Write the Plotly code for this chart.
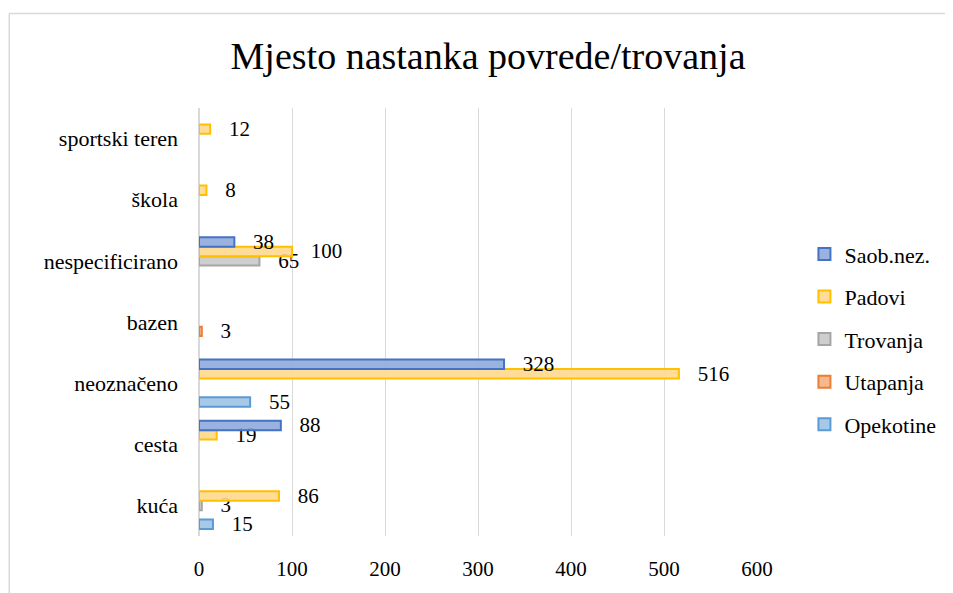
import plotly.graph_objects as go

categories = ["kuća", "cesta", "neoznačeno", "bazen", "nespecificirano", "škola", "sportski teren"]

saob_nez = [None, 88, 328, None, 38, None, None]
padovi = [86, 19, 516, None, 100, 8, 12]
trovanja = [3, None, None, None, 65, None, None]
utapanja = [None, None, None, 3, None, None, None]
opekotine = [15, None, 55, None, None, None, None]

x_ticks = [0, 100, 200, 300, 400, 500, 600]

# bottom to top inside each group (plotly draws first trace at the bottom)
series = [
    ("Opekotine", opekotine, "rgba(157,195,230,0.9)", "#5B9BD5", 5),
    ("Utapanja", utapanja, "rgba(244,177,131,0.9)", "#ED7D31", 4),
    ("Trovanja", trovanja, "rgba(201,201,201,0.9)", "#A5A5A5", 3),
    ("Padovi", padovi, "rgba(255,217,142,0.9)", "#FFC000", 2),
    ("Saob.nez.", saob_nez, "rgba(143,170,220,0.9)", "#4472C4", 1),
]

font_name = "Times New Roman, Liberation Serif, serif"

fig = go.Figure()
for name, vals, fill, edge, rank in series:
    fig.add_trace(go.Bar(
        y=categories, x=vals, name=name, orientation="h",
        marker=dict(color=fill, line=dict(color=edge, width=2)),
        text=vals, texttemplate="   %{x}", textposition="outside",
        textfont=dict(family=font_name, size=21, color="black"),
        constraintext="none", cliponaxis=False,
        legendgroup=name, legendrank=rank,
    ))

# the page body adds 8px around the figure, so the figure is 8px smaller
fig.update_layout(
    width=945, height=585,
    barmode="group", bargap=0.23, bargroupgap=0,
    paper_bgcolor="white", plot_bgcolor="white",
    margin=dict(l=191, r=195, t=100, b=51),
    font=dict(family=font_name, size=21, color="black"),
    title=dict(text="Mjesto nastanka povrede/trovanja", x=0.508, xanchor="center",
               y=0.918, yanchor="middle",
               font=dict(family=font_name, size=38, color="black")),
    legend=dict(x=1.085, xanchor="left", y=0.46, yanchor="middle",
                traceorder="grouped", tracegroupgap=11,
                font=dict(family=font_name, size=22, color="black")),
    shapes=[
        dict(type="line", xref="paper", yref="paper",
             x0=-0.34, x1=1.4, y0=1.221, y1=1.221,
             line=dict(color="#d9d9d9", width=1.5)),
        dict(type="line", xref="paper", yref="paper",
             x0=-0.34, x1=-0.34, y0=-0.2, y1=1.221,
             line=dict(color="#d9d9d9", width=1.5)),
    ],
)
fig.update_xaxes(range=[0, 600], tickvals=x_ticks, showgrid=True, gridcolor="#d9d9d9",
                 zeroline=True, zerolinecolor="#d9d9d9", showline=False,
                 tickfont=dict(family=font_name, size=21), ticks="", ticklabelstandoff=18)
fig.update_yaxes(showgrid=False, showline=False, ticks="",
                 tickfont=dict(family=font_name, size=22), ticklabelstandoff=20)

fig.write_html("out.html")
